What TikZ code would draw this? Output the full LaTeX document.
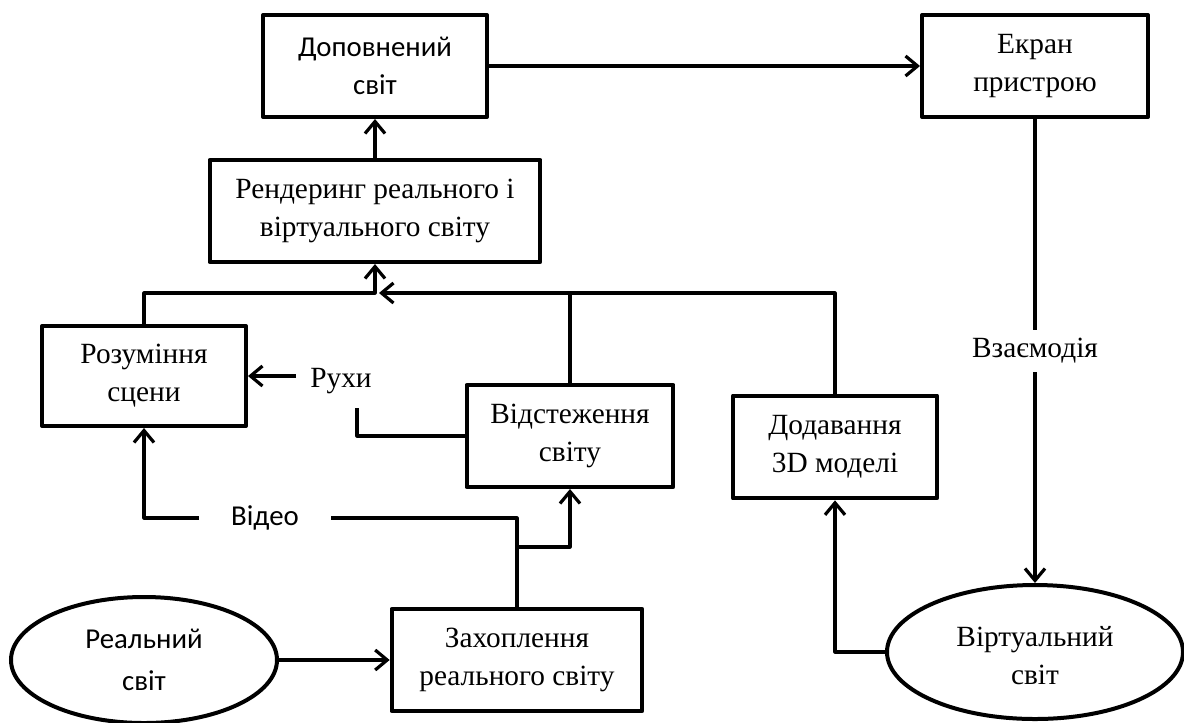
\documentclass[tikz,border=0pt]{standalone}
\usepackage{fontspec}
\setmainfont{Liberation Serif}
\newfontfamily\calfont{Carlito}
\usetikzlibrary{arrows.meta,shapes.geometric}

\begin{document}
\begin{tikzpicture}[x=0.75pt,y=-0.75pt,
  txt/.style={font=\fontsize{22}{28.5}\selectfont, align=center},
  stxt/.style={font=\calfont\fontsize{21.6}{28}\selectfont, align=center},
  box/.style={draw, line width=3pt, line join=round, inner sep=0pt},
  oval/.style={draw, ellipse, line width=3pt, inner sep=0pt},
  link/.style={line width=2.4pt, line join=round},
  arr/.style={link, -{Straight Barb[length=9pt, width=15pt, line width=2.4pt]}}]

\useasboundingbox (0,0) rectangle (1184,722);

% blocks
\node[box, stxt, minimum width=168pt, minimum height=76.5pt] (dop) at (375,66) {Доповнений\\світ};
\node[box, txt, minimum width=169.5pt, minimum height=76.5pt] (ekr) at (1035,66) {Екран\\пристрою};
\node[box, txt, minimum width=248pt, minimum height=76.5pt] (rend) at (375,211) {Рендеринг реального і\\віртуального світу};
\node[box, txt, minimum width=153pt, minimum height=75pt] (rozum) at (144,376) {Розуміння\\сцени};
\node[box, txt, minimum width=155pt, minimum height=76.5pt] (vidst) at (570,436) {Відстеження\\світу};
\node[box, txt, minimum width=153pt, minimum height=77pt] (dodav) at (835,447) {Додавання\\3D моделі};
\node[box, txt, minimum width=188pt, minimum height=76.5pt] (zahop) at (517,660) {Захоплення\\реального світу};
\node[oval, stxt, font=\calfont\fontsize{21.6}{31}\selectfont, minimum width=199.5pt, minimum height=94.5pt] (real) at (144,660) {Реальний\\світ};
\node[oval, minimum width=222pt, minimum height=100.5pt] (virt) at (1035,652) {};
\node[txt] (virtlbl) at (1035,656) {Віртуальний\\світ};

% free labels
\node[txt, inner sep=0pt] (ruhy) at (341,381) {Рухи};
\node[stxt, inner xsep=24pt, inner ysep=0pt] (video) at (265,518) {Відео};

% junction points
\coordinate (jl) at (375,293);
\coordinate (jr) at (379,293);
\coordinate (ruhyend) at (357,408);
\coordinate (vbranch) at (517,547);

% connectors
\draw[arr] (dop.east) -- (ekr.west);
\draw[arr] (rend.north) -- (dop.south);
\draw[arr] (rozum.north) |- (jl) -- (rend.south);
\draw[arr] (dodav.north) |- (jr);
\draw[link] (vidst.north) -- (vidst.north |- jl);
\draw[link] (vidst.west) -| (ruhyend);
\draw[arr] (296,376) -- (rozum.east);
\draw[link] (zahop.north) |- (video.east);
\draw[arr] (video.west) -| (rozum.south);
\draw[arr] (vbranch) -| (vidst.south);
\draw[arr] (real.east) -- (zahop.west);
\draw[arr] (virt.west) -| (dodav.south);
\draw[arr] (ekr.south) -- node[txt, fill=white, inner xsep=2pt, inner ysep=6pt] (vzaem) {Взаємодія} (virt.north);

\end{tikzpicture}
\end{document}
